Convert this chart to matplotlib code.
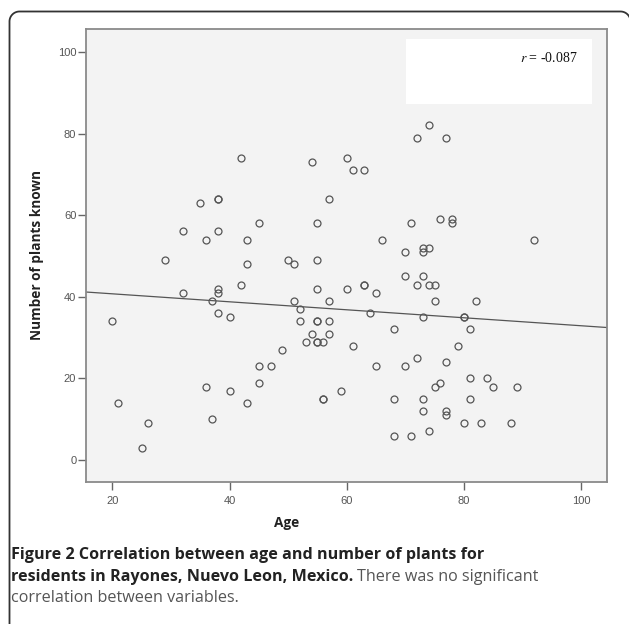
import matplotlib
matplotlib.use("Agg")
import matplotlib.pyplot as plt
import numpy as np
from matplotlib.lines import Line2D
from matplotlib.patches import Rectangle

# age / number of plants known
age = [
    42, 54, 35, 38, 38, 57, 32, 38, 36, 43, 45, 55, 29, 50, 55,
    74, 72, 77, 60, 61, 63, 71, 76, 78, 78, 66, 92, 70, 73, 74, 73,
    51, 43, 42, 32, 38, 38, 37, 38, 40, 20, 55, 51, 52, 52, 55, 55,
    57, 57, 57, 54, 53, 55, 55, 56, 49, 45, 47, 45, 36, 40, 43, 37,
    56, 56, 21, 26, 25,
    70, 73, 72, 74, 75, 60, 63, 63, 65, 75, 82, 64, 73, 80, 80, 68,
    81, 61, 79, 72, 77, 65, 70, 81, 84, 76, 75, 85, 89, 59, 68, 73,
    81, 73, 77, 77, 80, 83, 88, 68, 71, 74,
]
plants = [
    74, 73, 63, 64, 64, 64, 56, 56, 54, 54, 58, 58, 49, 49, 49,
    82, 79, 79, 74, 71, 71, 58, 59, 59, 58, 54, 54, 51, 52, 52, 51,
    48, 48, 43, 41, 42, 41, 39, 36, 35, 34, 42, 39, 37, 34, 34, 34,
    34, 39, 31, 31, 29, 29, 29, 29, 27, 23, 23, 19, 18, 17, 14, 10,
    15, 15, 14, 9, 3,
    45, 45, 43, 43, 43, 42, 43, 43, 41, 39, 39, 36, 35, 35, 35, 32,
    32, 28, 28, 25, 24, 23, 23, 20, 20, 19, 18, 18, 18, 17, 15, 15,
    15, 12, 12, 11, 9, 9, 9, 6, 6, 7,
]
r_value = -0.087

x_ticks = [20, 40, 60, 80, 100]
y_ticks = [0, 20, 40, 60, 80, 100]

sans = ["Open Sans", "DejaVu Sans"]
arial = ["Liberation Sans", "DejaVu Sans"]
W, H = 629, 624

fig = plt.figure(figsize=(W / 100, H / 100), dpi=100)
ax = fig.add_axes([86 / W, 1 - 481.7 / H, 520.7 / W, 452.7 / H])
ax.set_facecolor("#f3f3f3")

ax.plot(age, plants, "o", ms=5, mfc="none", mec="#555555", mew=0.9, zorder=3)

# least squares line, like the SPSS fit line
slope, intercept = np.polyfit(age, plants, 1)
xl = np.array([15.5, 104.4])
ax.plot(xl, intercept + slope * xl, color="#555555", lw=0.9, zorder=2)

ax.set_xlim(15.5, 104.4)
ax.set_ylim(-5.3, 105.6)
ax.set_xticks(x_ticks)
ax.set_yticks(y_ticks)
ax.tick_params(length=6, width=1, color="#666666", labelcolor="#555555", labelsize=8)
ax.tick_params(axis="y", pad=1)
ax.tick_params(axis="x", pad=4)
for lab in ax.get_xticklabels() + ax.get_yticklabels():
    lab.set_family(arial)
for sp in ax.spines.values():
    sp.set_color("#8a8a8a")
    sp.set_linewidth(1.3)

ax.set_xlabel("Age", family=sans, fontweight="bold", fontsize=9.8, color="#222222")
ax.xaxis.set_label_coords(0.386, -0.075)
ax.set_ylabel("Number of plants known", family=sans, fontweight="bold", fontsize=9.8, color="#222222")
ax.yaxis.set_label_coords(-0.081, 0.5)

# white box with the correlation coefficient
ax.add_patch(Rectangle((70.1, 87.2), 31.8, 16.0, facecolor="white", edgecolor="none", zorder=4))
ax.text(99.4, 98.6, f"$r$ = {r_value}", ha="right", va="center", math_fontfamily="stix",
        family=["Liberation Serif", "DejaVu Serif"], fontsize=10, color="#111111", zorder=5)

# outer panel frame in pixels: left edge, top edge, two rounded corners;
# the right edge sits just past the image border
rad = 10
left, top, right = 9.5, 11.5, 630.5
a = np.linspace(0, np.pi / 2, 20)
fx = np.concatenate([[left], left + rad - rad * np.cos(a), right - rad + rad * np.sin(a), [right]])
fy = np.concatenate([[H + 20], top + rad - rad * np.sin(a), top + rad - rad * np.cos(a), [H + 20]])
fig.add_artist(Line2D(fx / W, 1 - fy / H, transform=fig.transFigure, color="#333333", lw=1.3))

# caption
cap_size = 11.6
x0 = 11 / W
fig.text(x0, 1 - 555 / H, "Figure 2 Correlation between age and number of plants for",
         family=sans, fontweight="bold", fontsize=cap_size, color="#222222", va="center")
t2 = fig.text(x0, 1 - 577 / H, "residents in Rayones, Nuevo Leon, Mexico.",
              family=sans, fontweight="bold", fontsize=cap_size, color="#222222", va="center")
fig.canvas.draw()
b2 = t2.get_window_extent(fig.canvas.get_renderer())
fig.text((b2.x1 + 4) / W, 1 - 577 / H, "There was no significant",
         family=sans, fontsize=cap_size, color="#555555", va="center")
fig.text(x0, 1 - 598 / H, "correlation between variables.",
         family=sans, fontsize=cap_size, color="#555555", va="center")

fig.savefig("out.png", dpi=100)
